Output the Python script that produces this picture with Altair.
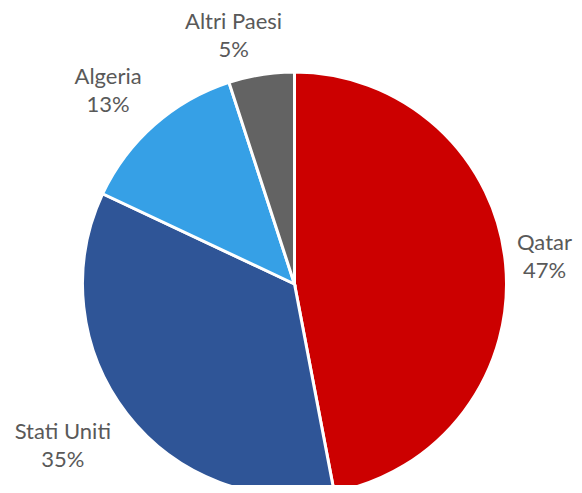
import math
import altair as alt
import pandas as pd

countries = ["Qatar", "Stati Uniti", "Algeria", "Altri Paesi"]
shares = [47, 35, 13, 5]
colors = ["#CC0000", "#2F5597", "#36A0E6", "#636363"]

W, H = 566, 477
CX, CY = 286.5, 276
PIE_R = 212
FONT = 22
LINE_H = 28
CHAR_W = 9.6
LABEL_D = 231   # distance from the centre of the label box corner nearest to the pie
HALF_H = 20     # visual half height of a two-line label


def clip(v):
    return max(-1.0, min(1.0, v))


# label layout: nearest corner of each label box on the slice's mid ray
total = sum(shares)
cum = 0
lab_theta, lab_r = [], []
for c, s in zip(countries, shares):
    mid = (cum + s / 2) / total * 2 * math.pi
    cum += s
    w = max(len(c) * CHAR_W, 55)
    ox = LABEL_D * math.sin(mid) + w / 2 * clip(3 * math.sin(mid))
    oy = LABEL_D * math.cos(mid) + HALF_H * clip(3 * math.cos(mid))
    ox = max(-CX + w / 2 + 2, min(W - CX - w / 2 - 2, ox))  # keep inside the view
    lab_theta.append(math.atan2(ox, oy) % (2 * math.pi))
    lab_r.append(math.hypot(ox, oy))

df = pd.DataFrame({
    "paese": countries,
    "quota": shares,
    "ordine": list(range(len(countries))),
    "etichetta": [f"{c}\n{s}%" for c, s in zip(countries, shares)],
    "lab_theta": lab_theta,
    "lab_r": lab_r,
})

pie = alt.Chart(df).mark_arc(stroke="white", strokeWidth=3).encode(
    theta=alt.Theta("quota:Q", stack=True),
    order=alt.Order("ordine:Q"),
    color=alt.Color("paese:N", scale=alt.Scale(domain=countries, range=colors), legend=None),
    radius=alt.value(PIE_R),
    x=alt.value(CX),
    y=alt.value(CY),
)

labels = alt.Chart(df).mark_text(
    font="Lato", fontSize=FONT, color="#595959", lineBreak="\n", lineHeight=LINE_H,
    align="center", baseline="middle", dy=-LINE_H / 2,
).encode(
    theta=alt.Theta("lab_theta:Q", scale=None, stack=False),
    radius=alt.Radius("lab_r:Q", scale=None),
    text="etichetta:N",
    x=alt.value(CX),
    y=alt.value(CY),
)

chart = (
    alt.layer(pie, labels)
    .resolve_scale(theta="independent", radius="independent")
    .properties(width=W, height=H, padding=0, autosize=alt.AutoSizeParams(type="none"))
    .configure_view(stroke=None)
)
chart.save("out.html", embed_options={"renderer": "svg", "actions": False})
